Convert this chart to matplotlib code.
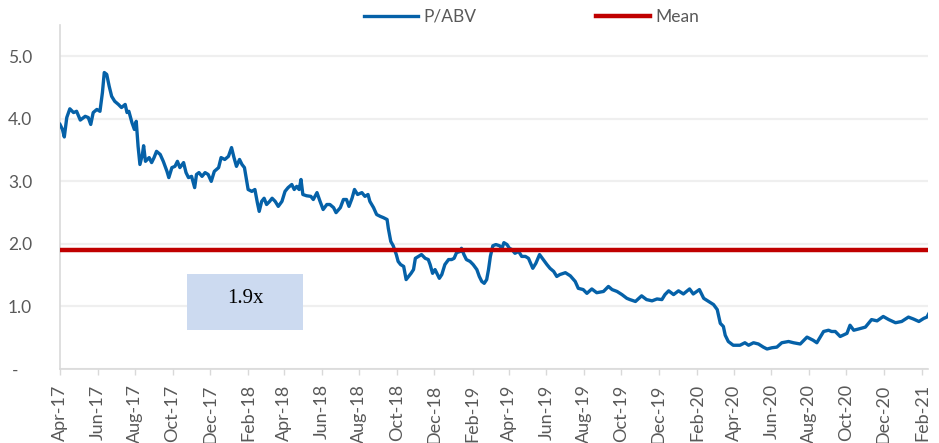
import numpy as np
import pandas as pd
import matplotlib
matplotlib.use("Agg")
import matplotlib.pyplot as plt
import matplotlib.dates as mdates
from matplotlib.patches import Rectangle

plt.rcParams['font.family'] = ['Lato', 'DejaVu Sans']

# P/ABV series (days after 1 Apr 2017, multiple)
start = pd.Timestamp("2017-04-01")
day_offset = [
    0, 4, 7, 11, 16, 22, 27, 33, 41, 46, 50, 54, 60, 65, 69, 72, 76, 80, 84, 89,
    95, 100, 106, 109, 112, 117, 121, 124, 127, 130, 134, 136, 139, 145, 149, 153, 157, 163, 168, 174,
    177, 182, 187, 191, 195, 201, 205, 209, 214, 219, 222, 226, 231, 236, 241, 246, 251, 258, 262, 268,
    274, 279, 283, 287, 292, 296, 300, 304, 306, 312, 317, 321, 324, 328, 332, 336, 341, 345, 350, 355,
    361, 366, 371, 377, 381, 385, 389, 392, 395, 401, 408, 412, 418, 423, 428, 434, 439, 445, 449, 456,
    461, 466, 470, 475, 479, 484, 491, 496, 501, 504, 510, 515, 521, 526, 532, 534, 538, 542, 547, 550,
    554, 559, 563, 567, 571, 575, 578, 583, 588, 594, 599, 602, 606, 610, 614, 617, 621, 626, 632, 637,
    641, 645, 651, 653, 657, 661, 667, 672, 678, 682, 686, 690, 694, 697, 700, 704, 709, 715, 719, 722,
    727, 731, 735, 740, 746, 751, 757, 762, 769, 774, 780, 786, 792, 797, 803, 808, 813, 822, 830, 838,
    843, 851, 857, 865, 873, 884, 892, 898, 906, 914, 922, 927, 936, 946, 954, 963, 971, 979, 984, 990,
    998, 1006, 1014, 1024, 1030, 1040, 1047, 1055, 1063, 1069, 1074, 1079, 1082, 1087, 1095, 1106, 1114, 1120, 1128, 1136,
    1144, 1150, 1158, 1166, 1174, 1185, 1193, 1204, 1215, 1225, 1231, 1242, 1250, 1255, 1261, 1269, 1280, 1285, 1291, 1299,
    1310, 1320, 1329, 1339, 1348, 1359, 1369, 1380, 1388, 1397, 1405, 1410, 1414,
]
p_abv = [
    3.91, 3.83, 3.71, 4.02, 4.16, 4.10, 4.12, 3.98, 4.04, 4.02, 3.91, 4.10, 4.15, 4.12, 4.42, 4.74, 4.71, 4.52, 4.36, 4.28,
    4.23, 4.18, 4.23, 4.10, 4.12, 3.94, 3.83, 3.96, 3.56, 3.27, 3.43, 3.57, 3.32, 3.38, 3.30, 3.38, 3.48, 3.43, 3.32, 3.16,
    3.06, 3.22, 3.24, 3.32, 3.22, 3.30, 3.14, 3.06, 3.08, 2.90, 3.11, 3.14, 3.08, 3.14, 3.11, 3.00, 3.16, 3.22, 3.38, 3.35,
    3.40, 3.54, 3.38, 3.24, 3.35, 3.27, 3.22, 2.98, 2.87, 2.84, 2.87, 2.66, 2.52, 2.68, 2.73, 2.63, 2.68, 2.73, 2.68, 2.60,
    2.68, 2.84, 2.90, 2.95, 2.87, 2.92, 2.87, 3.03, 2.79, 2.77, 2.76, 2.71, 2.82, 2.68, 2.55, 2.63, 2.63, 2.58, 2.50, 2.58,
    2.71, 2.71, 2.60, 2.73, 2.87, 2.79, 2.82, 2.76, 2.79, 2.68, 2.58, 2.47, 2.44, 2.42, 2.39, 2.25, 2.04, 1.97, 1.83, 1.72,
    1.67, 1.64, 1.43, 1.48, 1.53, 1.59, 1.77, 1.80, 1.83, 1.77, 1.75, 1.67, 1.53, 1.59, 1.51, 1.45, 1.51, 1.67, 1.75, 1.75,
    1.77, 1.86, 1.88, 1.93, 1.83, 1.75, 1.72, 1.67, 1.59, 1.48, 1.40, 1.37, 1.43, 1.59, 1.80, 1.97, 1.99, 1.97, 1.93, 2.02,
    1.99, 1.93, 1.91, 1.85, 1.88, 1.80, 1.80, 1.77, 1.61, 1.69, 1.83, 1.75, 1.67, 1.61, 1.56, 1.48, 1.51, 1.54, 1.49, 1.40,
    1.29, 1.27, 1.21, 1.28, 1.22, 1.24, 1.32, 1.27, 1.24, 1.19, 1.13, 1.11, 1.08, 1.17, 1.11, 1.09, 1.12, 1.11, 1.19, 1.25,
    1.19, 1.25, 1.20, 1.28, 1.20, 1.27, 1.13, 1.08, 1.03, 0.95, 0.73, 0.68, 0.54, 0.44, 0.38, 0.38, 0.42, 0.38, 0.42, 0.40,
    0.35, 0.32, 0.34, 0.35, 0.42, 0.44, 0.42, 0.40, 0.51, 0.46, 0.42, 0.60, 0.62, 0.60, 0.60, 0.52, 0.57, 0.70, 0.62, 0.64,
    0.67, 0.79, 0.77, 0.84, 0.79, 0.74, 0.76, 0.83, 0.80, 0.76, 0.81, 0.83, 0.90,
]
mean_value = 1.9
y_ticks = [0, 1, 2, 3, 4, 5]
y_labels = ["-   ", "1.0", "2.0", "3.0", "4.0", "5.0"]
box_label = "1.9x"

dates = start + pd.to_timedelta(day_offset, unit="D")

grey = "#595959"
fig = plt.figure(figsize=(9.39, 4.43), dpi=100)
ax = fig.add_axes([0.0639, 0.167, 0.9245, 0.7766])

ax.plot(dates, p_abv, color="#0561A8", lw=2.4, label="P/ABV", zorder=3,
        solid_joinstyle="round")
ax.axhline(mean_value, color="#C00000", lw=3.2, label="Mean", zorder=4)

ax.set_ylim(0, 5.5)
ax.set_yticks(y_ticks)
ax.set_yticklabels(y_labels)
ax.set_xlim(start, pd.Timestamp("2021-02-11"))
ax.xaxis.set_major_locator(mdates.MonthLocator(bymonth=[2, 4, 6, 8, 10, 12]))
ax.xaxis.set_major_formatter(mdates.DateFormatter("%b-%y"))

ax.grid(axis="y", color="#EFEFEF", lw=1.6, zorder=0)
for s in ["top", "right"]:
    ax.spines[s].set_visible(False)
for s in ["left", "bottom"]:
    ax.spines[s].set_color("#D9D9D9")
    ax.spines[s].set_linewidth(1.2)

ax.tick_params(axis="y", length=0, pad=20, labelsize=12.5, labelcolor=grey)
ax.tick_params(axis="x", length=4, width=1, color="#D9D9D9", pad=7,
               labelsize=13, labelcolor=grey, labelrotation=90)

# shaded annotation box
ax.add_patch(Rectangle((0.1463, 0.1134), 0.1336, 0.1628, transform=ax.transAxes,
                       facecolor="#CCDAF0", edgecolor="none", zorder=2))
ax.text(0.2131, 0.205, box_label, transform=ax.transAxes, ha="center", va="center",
        fontsize=15, family="Liberation Serif", color="black", zorder=5)

fig.legend(loc="center", bbox_to_anchor=(0.566, 0.962), ncol=2, frameon=False,
           fontsize=12.5, labelcolor=grey, handlelength=3.1, handletextpad=0.3,
           columnspacing=6.9)

fig.savefig("out.png", dpi=100)
